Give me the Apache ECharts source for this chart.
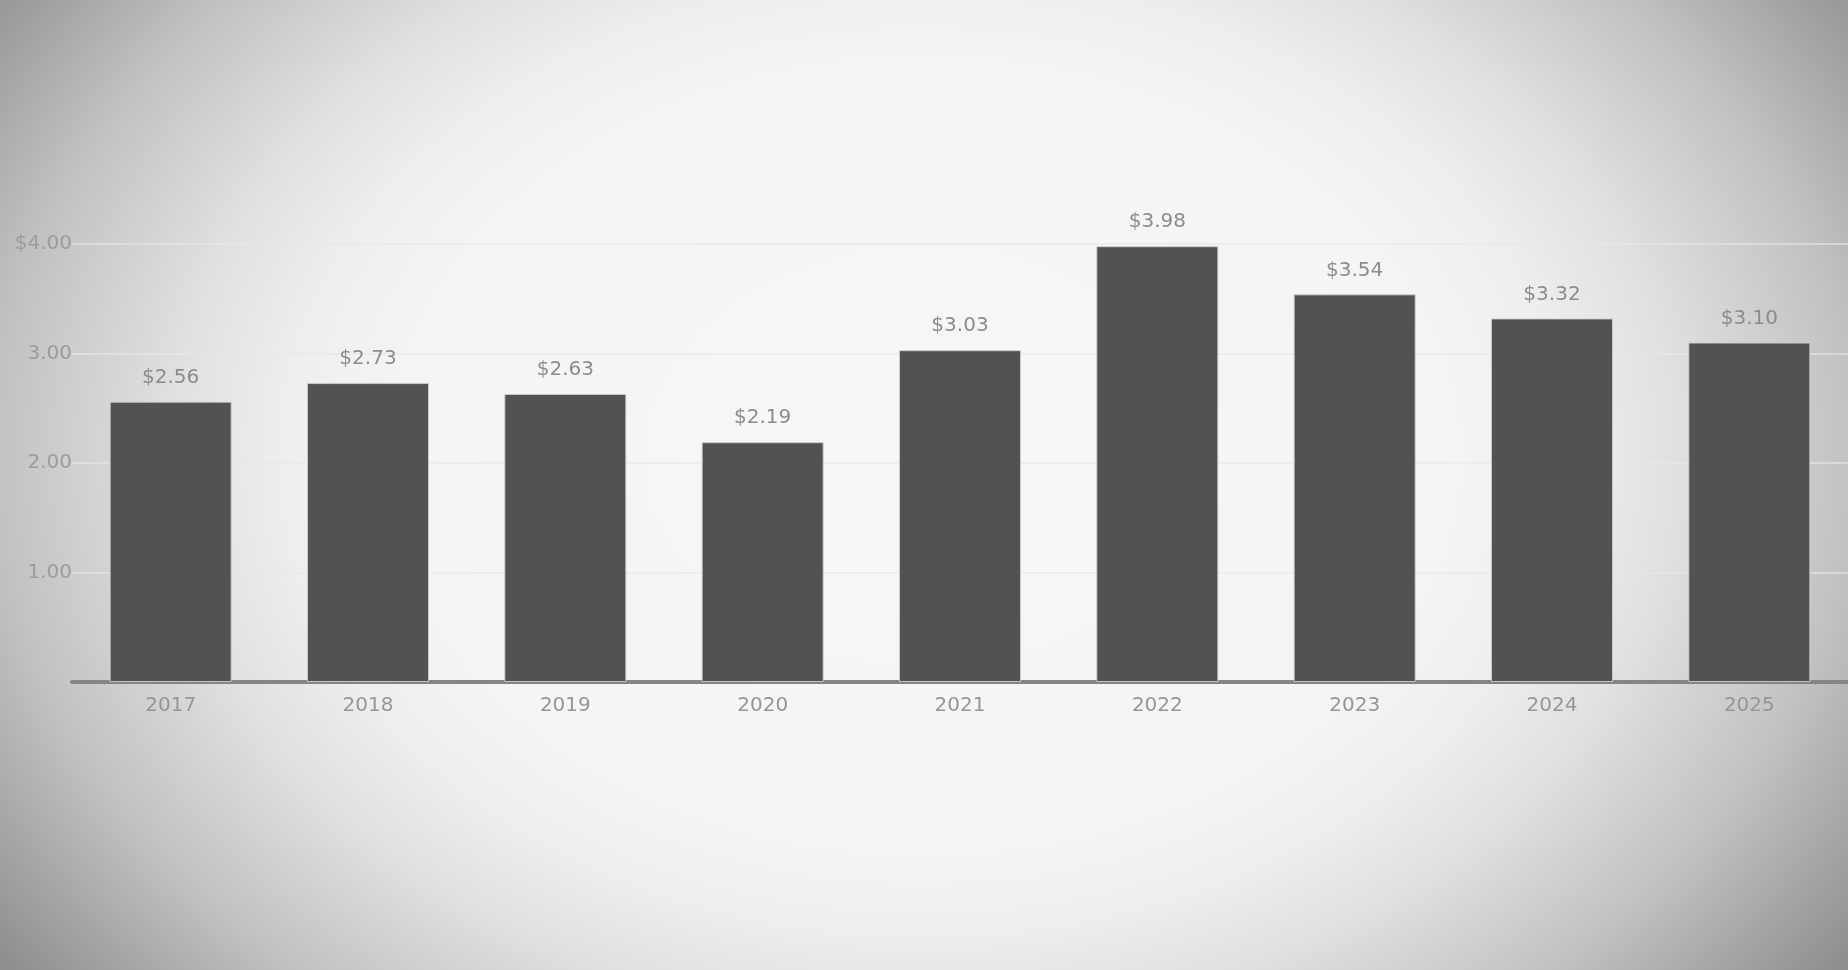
<!DOCTYPE html>
<html>
<head>
<meta charset="utf-8">
<script src="https://cdn.jsdelivr.net/npm/echarts@6/dist/echarts.min.js"></script>
<style>
  html, body { margin: 0; padding: 0; width: 1848px; height: 970px; overflow: hidden; }
  body {
    background: radial-gradient(ellipse 62% 88% at 50% 47%,
      #f7f7f7 0%, #f5f5f5 45%, #eeeeee 56%, #e0e0e0 66%, #c2c2c2 81%, #8e8e8e 100%);
  }
  #chart { width: 1848px; height: 970px; }
</style>
</head>
<body>
<div id="chart"></div>
<script>
const years = ['2017', '2018', '2019', '2020', '2021', '2022', '2023', '2024', '2025'];
const values = [2.56, 2.73, 2.63, 2.19, 3.03, 3.98, 3.54, 3.32, 3.10];
const yTicks = [0, 1, 2, 3, 4];

const chart = echarts.init(document.getElementById('chart'), null, { renderer: 'canvas' });
const font = 'DejaVu Sans';
chart.setOption({
  backgroundColor: 'transparent',
  animation: false,
  grid: { left: 72, right: -6, top: 244, bottom: 288, containLabel: false },
  xAxis: {
    type: 'category',
    data: years,
    axisLine: { show: true, lineStyle: { color: '#858585', width: 4 } },
    axisTick: { show: false },
    axisLabel: { color: '#969696', fontSize: 20, fontFamily: font, margin: 14 },
    splitLine: { show: false }
  },
  yAxis: {
    type: 'value',
    min: yTicks[0],
    max: yTicks[yTicks.length - 1],
    interval: 1,
    axisLine: { show: false },
    axisTick: { show: false },
    axisLabel: {
      color: '#9c9c9c', fontSize: 20, fontFamily: font, margin: 0,
      formatter: function (v) {
        if (v === 0) return '';
        if (v === yTicks[yTicks.length - 1]) return '$' + v.toFixed(2);
        return v.toFixed(2);
      }
    },
    splitLine: { show: true, lineStyle: { color: 'rgba(232,232,232,0.6)', width: 2 } }
  },
  series: [{
    type: 'bar',
    data: values,
    barWidth: 122,
    itemStyle: { color: '#525252', borderColor: 'rgba(205,205,205,0.9)', borderWidth: 1 },
    label: {
      show: true,
      position: 'top',
      distance: 14,
      color: '#8c8c8c',
      fontSize: 20,
      fontFamily: font,
      formatter: function (p) { return '$' + p.value.toFixed(2); }
    }
  }]
});
</script>
</body>
</html>
